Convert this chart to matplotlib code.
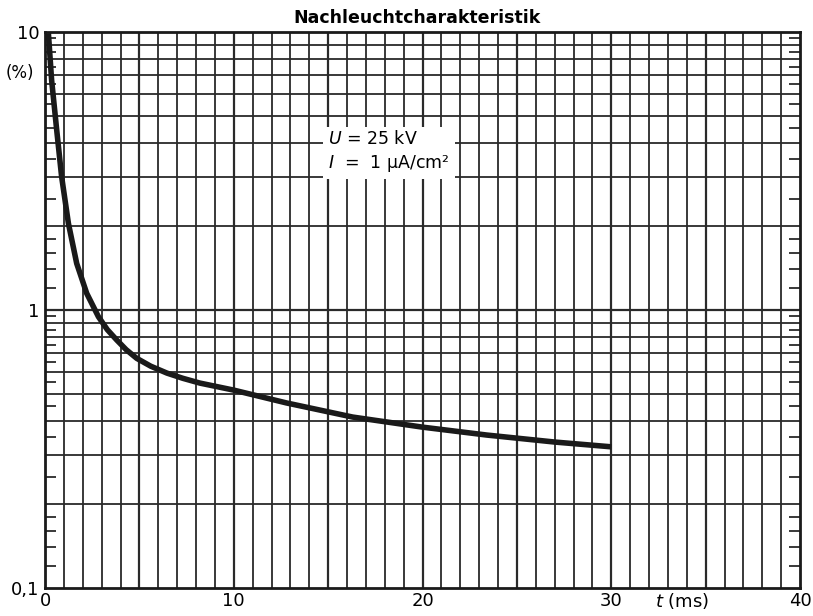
import matplotlib
matplotlib.use("Agg")
import matplotlib.pyplot as plt

plt.rcParams['font.family'] = ['DejaVu Sans']
plt.rcParams['mathtext.fontset'] = 'dejavusans'

# data
t_ms = [0.18, 0.35, 0.62, 0.88, 1.24, 1.68, 2.21, 2.83, 3.3, 3.8, 4.3, 4.86, 5.6,
        6.46, 7.3, 8.2, 10.0, 12.8, 16.3, 20.0, 23.4, 27.0, 30.0]
afterglow = [9.9, 6.72, 4.44, 3.02, 2.05, 1.47, 1.148, 0.946, 0.85, 0.78, 0.72, 0.67, 0.628,
             0.593, 0.568, 0.546, 0.515, 0.463, 0.412, 0.379, 0.355, 0.335, 0.322]

x_ticks = [0, 10, 20, 30, 40]
x_ticklabels = ['0', '10', '20', '30', '40']
y_ticks = [0.1, 1, 10]
y_ticklabels = ['0,1', '1', '10']
title = 'Nachleuchtcharakteristik'
annotation = ['$U$ = 25 kV', '$I$  =  1 µA/cm²']

fig = plt.figure(figsize=(8.13, 6.16), dpi=100)
ax = fig.add_axes([45/813, 1-588/616, 755/813, 556/616])
ax.set_yscale('log')
ax.set_xlim(0, 40)
ax.set_ylim(0.1, 10)

gc = '#2a2a2a'
# vertical grid every 1 ms
for xv in range(1, 40):
    ax.axvline(xv, color=gc, lw=1.3 if xv % 5 else 1.6, zorder=1)
# horizontal grid at 1..9 per decade
for dec in [0.1, 1]:
    for k in range(2, 10):
        ax.axhline(k*dec, color=gc, lw=1.3, zorder=1)
ax.axhline(1, color=gc, lw=1.6, zorder=1)

# minor short ticks
minor = []
for dec in [0.1, 1]:
    minor += [dec*m for m in [1.2, 1.4, 1.6, 1.8, 2.5, 3.5, 4.5, 5.5, 6.5, 7.5, 8.5, 9.5]]
ax.set_yticks(minor, minor=True)
ax.set_yticklabels([], minor=True)
ax.tick_params(axis='y', which='minor', direction='in', length=8, width=1.3,
               color=gc, left=True, right=True)

ax.set_xticks(x_ticks)
ax.set_xticklabels(x_ticklabels, fontsize=13)
ax.set_yticks(y_ticks)
ax.set_yticklabels(y_ticklabels, fontsize=13)
ax.tick_params(axis='both', which='major', length=0, pad=3)
ax.tick_params(axis='y', which='major', pad=4)

for s in ax.spines.values():
    s.set_linewidth(2.0)
    s.set_color('#1a1a1a')

ax.plot(t_ms, afterglow, color='#1a1a1a', lw=4.0, solid_joinstyle='round',
        solid_capstyle='butt', zorder=3)

ax.text(15.0, 3.7, annotation[0] + '\n' + annotation[1], fontsize=12.5, linespacing=1.3,
        va='center', ha='left', zorder=4,
        bbox=dict(facecolor='white', edgecolor='none', pad=4))

fig.text(417/813, 1-18/616, title, fontsize=12.5, fontweight='bold',
         ha='center', va='center')
fig.text(20/813, 1-73/616, '(%)', fontsize=12, ha='center', va='center')
fig.text(682/813, 1-601/616, '$t$ (ms)', fontsize=13, ha='center', va='center')

fig.savefig('out.png', dpi=100, facecolor='white')
